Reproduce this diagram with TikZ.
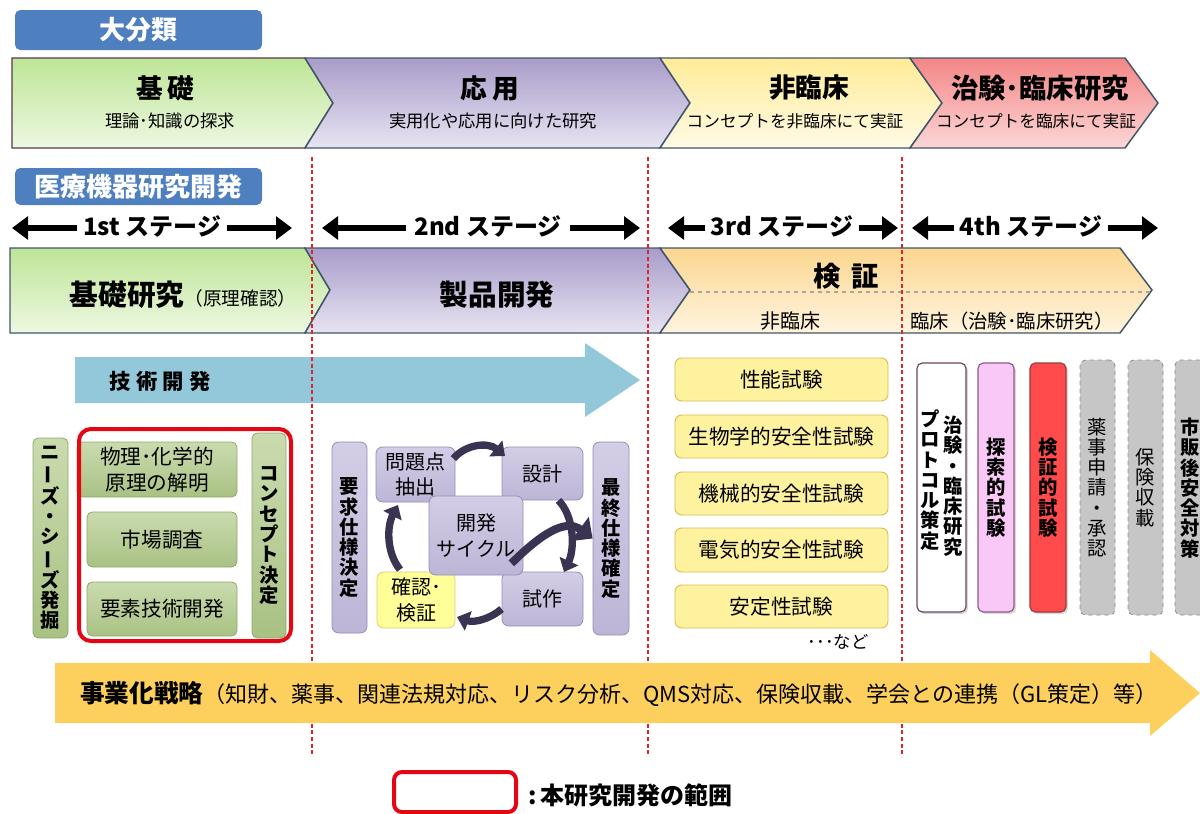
\documentclass[tikz,border=0pt]{standalone}
\usepackage{fontspec}
\setmainfont{Noto Sans CJK JP}
\usepackage{graphicx}
\usetikzlibrary{arrows.meta,shadows}
\definecolor{lblue}{HTML}{4E7FBF}
\definecolor{slate}{HTML}{42566A}
\definecolor{gBordA}{HTML}{5A3845}
\definecolor{gTopA}{HTML}{BDE596}
\definecolor{gBotA}{HTML}{EEF8E2}
\definecolor{pTopA}{HTML}{A99CC9}
\definecolor{pBotA}{HTML}{E7E4F2}
\definecolor{yTopA}{HTML}{FFEB98}
\definecolor{yBotA}{HTML}{FFFBE6}
\definecolor{rTopA}{HTML}{F48686}
\definecolor{rBotA}{HTML}{FCD6D6}
\definecolor{oTopA}{HTML}{FBD68F}
\definecolor{oBotA}{HTML}{FFF4DF}
\definecolor{techB}{HTML}{93C8DA}
\definecolor{bizY}{HTML}{FDD05E}
\definecolor{olTop}{HTML}{CADBAE}
\definecolor{olBot}{HTML}{A9C184}
\definecolor{olBord}{HTML}{8FA86A}
\definecolor{lavTop}{HTML}{D3CDE6}
\definecolor{lavBot}{HTML}{BDB5D6}
\definecolor{lavBord}{HTML}{968DB6}
\definecolor{ylBox}{HTML}{FFF29E}
\definecolor{ylBord}{HTML}{D8BC55}
\definecolor{cycA}{HTML}{3B3352}
\definecolor{redL}{HTML}{E30613}
\definecolor{dashR}{HTML}{D9262E}
\definecolor{wBord}{HTML}{6E4563}
\definecolor{pinkF}{HTML}{F9C8F6}
\definecolor{pinkB}{HTML}{8E5C84}
\definecolor{redF}{HTML}{FF4B4B}
\definecolor{redB}{HTML}{9E3A3A}
\definecolor{grayF}{HTML}{C6C6C6}
\definecolor{grayB}{HTML}{8C8C8C}
\definecolor{cfY}{HTML}{FFFF99}
\newcommand\fsz[2]{\fontsize{#1}{#2}\selectfont}
\newcommand\vbar{\rotatebox[origin=c]{90}{ー}}
\newcommand\vfont{\bfseries\fsz{14.5}{15.2}}
% box from (x1,y1) to (x2,y2), in picture pixels
\newcommand\bx[6]{\node[#1, minimum width={(#4-#2)*0.75pt}, minimum height={(#5-#3)*0.75pt}] (#6) at ({(#2+#4)/2},{(#3+#5)/2})}
\begin{document}
\begin{tikzpicture}[x=0.75pt, y=-0.75pt,
  lbl/.style={rounded corners=4pt, fill=lblue, draw=none, text=white, font=\bfseries\fsz{19.5}{24}, inner sep=0pt},
  chev/.style={draw=slate, line width=1.1pt, line join=miter},
  txt/.style={inner sep=0pt, text=black},
  stg/.style={line width=5pt, -{Triangle[length=12pt,width=17pt]}},
  gbox/.style={draw=olBord, line width=0.6pt, rounded corners=4pt, top color=olTop, bottom color=olBot, inner sep=0pt, font=\fsz{15.5}{19}, align=center},
  lbox/.style={draw=lavBord, line width=0.6pt, rounded corners=5pt, top color=lavTop, bottom color=lavBot, inner sep=0pt, font=\fsz{15}{19}, align=center},
  ybox/.style={draw=ylBord, line width=0.7pt, rounded corners=5pt, fill=ylBox, inner sep=0pt, font=\fsz{15.5}{19}, align=center},
  vbox/.style={rounded corners=4pt, inner sep=0pt, align=center, font=\vfont, line width=0.9pt,
     drop shadow={opacity=0.3, shadow xshift=1.5pt, shadow yshift=-1.5pt}},
  gray/.style={rounded corners=4pt, inner sep=0pt, align=center, font=\fsz{14.5}{15.2}, fill=grayF, draw=grayB, dashed, line width=0.6pt},
  rdash/.style={draw=dashR, line width=0.9pt, dash pattern=on 3pt off 2pt},
  cyc/.style={draw=cycA, line width=5.5pt, -{Triangle[length=9pt,width=15pt]}}
]
\useasboundingbox (0,0) rectangle (1200,814);

% ---------- labels
\bx{lbl}{15}{10}{262}{50}{dai} {大分類};
\bx{lbl}{15}{168}{262}{205}{iryo} {医療機器研究開発};

% ---------- row 1 chevrons
\path[chev, draw=gBordA, top color=gTopA, bottom color=gBotA] (12,58) -- (305,58) -- (333,103) -- (305,148) -- (12,148) -- cycle;
\path[chev, top color=pTopA, bottom color=pBotA] (305,58) -- (660,58) -- (690,103) -- (660,148) -- (305,148) -- (333,103) -- cycle;
\path[chev, top color=yTopA, bottom color=yBotA] (660,58) -- (910,58) -- (942,103) -- (910,148) -- (660,148) -- (690,103) -- cycle;
\path[chev, top color=rTopA, bottom color=rBotA] (910,58) -- (1125,58) -- (1158,103) -- (1125,148) -- (910,148) -- (942,103) -- cycle;

\node[txt, font=\bfseries\fsz{20}{24}] (k1) at (165,88) {基\hspace{3pt}礎};
\node[txt, font=\fsz{13}{16}] (k1s) at (170,121) {理論･知識の探求};
\node[txt, font=\bfseries\fsz{20}{24}] (o1) at (490,88) {応\hspace{4pt}用};
\node[txt, font=\fsz{13}{16}] (o1s) at (493,121) {実用化や応用に向けた研究};
\node[txt, font=\bfseries\fsz{20}{24}] (h1) at (809,88) {非臨床};
\node[txt, font=\fsz{12.5}{16}] (h1s) at (795,121) {コンセプトを非臨床にて実証};
\node[txt, font=\bfseries\fsz{20.5}{24}] (c1) at (1040,88) {治験･臨床研究};
\node[txt, font=\fsz{12.5}{16}] (c1s) at (1036,121) {コンセプトを臨床にて実証};

% ---------- stage arrows
\node[txt, font=\bfseries\fsz{18}{22}] (s1) at (152,226) {1st ステージ};
\node[txt, font=\bfseries\fsz{18}{22}] (s2) at (488,226) {2nd ステージ};
\node[txt, font=\bfseries\fsz{18}{22}] (s3) at (782,226) {3rd ステージ};
\node[txt, font=\bfseries\fsz{18}{22}] (s4) at (1031,226) {4th ステージ};
\coordinate (s1l) at (12,228);  \coordinate (s1r) at (292,228);
\coordinate (s2l) at (322,228); \coordinate (s2r) at (640,228);
\coordinate (s3l) at (668,228); \coordinate (s3r) at (898,228);
\coordinate (s4l) at (912,228); \coordinate (s4r) at (1158,228);
\draw[stg] ([xshift=-4pt]s1.west |- s1l) -- (s1l);
\draw[stg] ([xshift=4pt]s1.east |- s1r) -- (s1r);
\draw[stg] ([xshift=-6pt]s2.west |- s2l) -- (s2l);
\draw[stg] ([xshift=6pt]s2.east |- s2r) -- (s2r);
\draw[stg] ([xshift=-4pt]s3.west |- s3l) -- (s3l);
\draw[stg] ([xshift=4pt]s3.east |- s3r) -- (s3r);
\draw[stg] ([xshift=-4pt]s4.west |- s4l) -- (s4l);
\draw[stg] ([xshift=4pt]s4.east |- s4r) -- (s4r);

% ---------- row 2 chevrons
\path[chev, top color=gTopA, bottom color=gBotA] (10,248) -- (305,248) -- (330,290) -- (305,333) -- (10,333) -- cycle;
\path[chev, top color=pTopA, bottom color=pBotA] (305,248) -- (660,248) -- (690,290) -- (660,333) -- (305,333) -- (330,290) -- cycle;
\path[chev, top color=oTopA, bottom color=oBotA] (660,248) -- (1120,248) -- (1152,290) -- (1120,333) -- (660,333) -- (690,290) -- cycle;
\draw[gray!70, dashed, line width=0.8pt] (690,292) -- (1150,292);

\node[txt] (kiso2) at (183,295) {{\bfseries\fsz{21.5}{25}基礎研究}{\fsz{14}{16}（原理確認）}};
\node[txt, font=\bfseries\fsz{21.5}{25}] (seihin) at (497,295) {製品開発};
\node[txt, font=\bfseries\fsz{20.5}{24}] (kensho) at (846,276) {検\hspace{8pt}証};
\node[txt, font=\fsz{15}{18}] (hirin2) at (790,321) {非臨床};
\node[txt, font=\fsz{14.5}{17}] (rin2) at (1012,321) {臨床（治験･臨床研究）};

% ---------- tech dev arrow
\path[fill=techB] (75,357) -- (585,357) -- (585,343) -- (640,380) -- (585,417) -- (585,403) -- (75,403) -- cycle;
\node[txt, font=\bfseries\fsz{16}{19}] (gijutsu) at (160,381) {技\hspace{4pt}術\hspace{4pt}開\hspace{4pt}発};

% ---------- red dashed separators
\draw[rdash] (312,157) -- (312,757);
\draw[rdash] (648,157) -- (648,757);
\draw[rdash] (902,157) -- (902,757);

% ---------- 1st stage boxes
\bx{gbox, font=\vfont}{33}{438}{68}{638}{needs} {ニ\\\vbar\\ズ\\・\\シ\\\vbar\\ズ\\発\\掘};
\bx{gbox}{77}{442}{237}{497}{phys} {物理･化学的\\原理の解明};
\bx{gbox}{87}{512}{237}{567}{market} {市場調査};
\bx{gbox}{87}{582}{237}{636}{elem} {要素技術開発};
\bx{gbox, font=\vfont}{252}{433}{286}{638}{concept} {コ\\ン\\セ\\プ\\ト\\決\\定};
\bx{draw=redL, line width=3pt, rounded corners=9pt, inner sep=0pt}{79}{429}{291}{641}{scope} {};

% ---------- 2nd stage boxes
\bx{lbox, font=\vfont}{332}{442}{367}{633}{req} {要\\求\\仕\\様\\決\\定};
\bx{lbox}{376}{447}{455}{502}{prob} {問題点\\抽出};
\bx{lbox}{502}{447}{583}{500}{design} {設計};
\bx{lbox}{502}{572}{583}{626}{proto} {試作};
\bx{lbox, draw=ylBord!80, top color=cfY, bottom color=cfY}{377}{572}{455}{628}{verify} {確認･\\検証};
\bx{lbox, font=\vfont}{593}{442}{629}{635}{final} {最\\終\\仕\\様\\確\\定};
\draw[cyc] (prob.north east) ++(-2,12) .. controls (466,444) and (488,442) .. (505,456);
\draw[cyc] (design.south) ++(16,0) .. controls (574,516) and (575,548) .. (564,572);
\draw[cyc] (proto.west) ++(0,10) .. controls (490,619) and (474,623) .. (457,617);
\draw[cyc] (verify.north) ++(-16,-2) .. controls (386,552) and (387,526) .. (398,505);
\bx{lbox}{429}{496}{523}{575}{cycle} {開発\\サイクル};
\draw[cycA, line width=6pt, -{Triangle[length=12pt,width=22pt]}] (cycle.south east) ++(-12,-12) .. controls (540,535) and (565,518) .. (final.west);

% ---------- 3rd stage boxes
\bx{ybox}{675}{358}{888}{401}{t1} {性能試験};
\bx{ybox}{675}{415}{888}{458}{t2} {生物学的安全性試験};
\bx{ybox}{675}{472}{888}{515}{t3} {機械的安全性試験};
\bx{ybox}{675}{528}{888}{572}{t4} {電気的安全性試験};
\bx{ybox}{675}{585}{888}{628}{t5} {安定性試験};
\node[txt, font=\fsz{13}{16}, anchor=north] (nado) at (838,634) {･･･など};

% ---------- 4th stage boxes
\bx{vbox, draw=wBord, fill=white}{917}{363}{966}{612}{proto4} {};
\node[txt, font=\vfont, align=center] (p4a) at (953,486) {治\\験\\・\\臨\\床\\研\\究};
\node[txt, font=\vfont, align=center] (p4b) at (930,480) {プ\\ロ\\ト\\コ\\ル\\策\\定};
\bx{vbox, draw=pinkB, fill=pinkF}{978}{363}{1014}{612}{tansaku} {探\\索\\的\\試\\験};
\bx{vbox, draw=redB, fill=redF}{1030}{363}{1066}{612}{kensho4} {検\\証\\的\\試\\験};
\bx{gray}{1080}{360}{1115}{615}{yakuji} {薬\\事\\申\\請\\・\\承\\認};
\bx{gray}{1128}{360}{1163}{615}{hoken} {保\\険\\収\\載};
\bx{gray}{1175}{360}{1213}{615}{shihan} {};
\node[txt, font=\bfseries\fsz{14.5}{15.2}, align=center] (shihant) at (1190,488) {市\\販\\後\\安\\全\\対\\策};

% ---------- business strategy arrow
\path[fill=bizY] (55,663) -- (1150,663) -- (1150,650) -- (1200,693) -- (1150,736) -- (1150,723) -- (55,723) -- cycle;
\node[txt, anchor=west] (biz) at (80,694) {{\bfseries\fsz{18.5}{22}事業化戦略}{\fsz{16.5}{19}（知財、薬事、関連法規対応、リスク分析、QMS対応、保険収載、学会との連携（GL策定）等）}};

% ---------- legend
\bx{draw=redL, line width=3pt, rounded corners=6pt, inner sep=0pt}{394}{772}{516}{812}{legbox} {};
\node[txt, font=\bfseries\fsz{18}{22}, anchor=west] (legtxt) at (528,795) {:\,本研究開発の範囲};
\end{tikzpicture}
\end{document}
